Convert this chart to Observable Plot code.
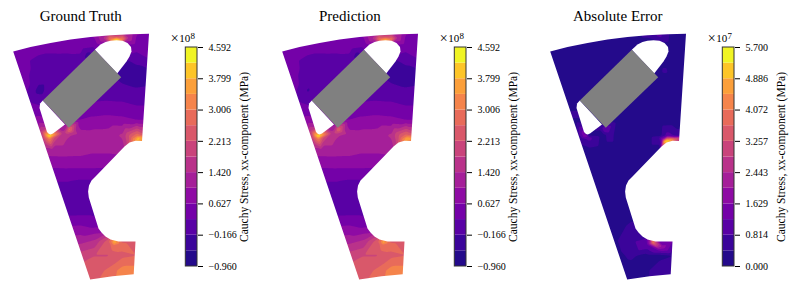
<!DOCTYPE html>
<html><head><meta charset="utf-8">
<style>html,body{margin:0;padding:0;background:#fff}#root{position:relative;width:793px;height:292px;overflow:hidden}
#root svg{position:absolute;top:0;display:block;max-width:none;background:transparent}</style>
<script src="https://cdn.jsdelivr.net/npm/d3@7"></script>
<script src="https://cdn.jsdelivr.net/npm/@observablehq/plot@0.6"></script>
</head><body><div id="root"></div>
<script>
const titles = ["Ground Truth", "Prediction", "Absolute Error"];
const panelLeft = [0, 268.67, 537.33];
const exponents = ["8", "8", "7"];
const axisLabel = "Cauchy Stress, xx-component (MPa)";
const stressTicks = [-0.96, -0.166, 0.627, 1.42, 2.213, 3.006, 3.799, 4.592];
const errorTicks = [0, 0.814, 1.629, 2.443, 3.257, 4.072, 4.886, 5.7];
const stressEdges = [-0.96,-0.563,-0.167,0.23,0.627,1.023,1.42,1.816,2.213,2.61,3.006,3.403,3.799,4.196,4.592];
const errorEdges = [0,0.407,0.814,1.221,1.629,2.036,2.443,2.85,3.257,3.664,4.072,4.479,4.886,5.293,5.7];
const bandColors = ["#240a8b","#3b049a","#5901a5","#7401a8","#8e0ba4","#a51f99","#b9328a","#c9447b","#d9586a","#e86b5a","#f5844b","#fb9f3a","#fdc528","#f0f424"];

const outlineX = [12.7,30,50,70,90,110,130,148.5,141.5,135,129,124,95,91,88.5,87.6,88.3,98,101,105,110,118,135,133.2,112,100,89.7,12.7];
const outlineY = [51,46.5,42.5,39,36.6,34.7,33.7,33.3,140.5,140.3,142,146,176,180,185,191,197,228,232,236,239,241,241,273.7,275.7,277.5,279,51];
const frameX = [-6,-6,172,172,-6];
const frameY = [-6,298,298,-6,-6];
const upperSlotX = [94.3,100,105,110,116,122,127,130.5,131,129,126,116.7];
const upperSlotY = [49.3,44,41.5,40.2,39.8,40.2,42.5,46.5,51,56,61,73];
const lowerSlotX = [42.3,39.6,39,46.5,48.5,50.2,52.5,64.5];
const lowerSlotY = [100,103,107.5,131.5,133.5,134,133,124];
const magnetX = [94.3,120.7,68.3,42.3];
const magnetY = [49.3,76.7,127.3,100];

const gridX = [10,24,38,52,66,80,94,108,122,136,150];
const gridY = [30,45,60,75,90,105,120,135,150,165,180,195,210,225,240,255,270,285];
const truthGrid = [
 .43,.43,.43,.43,.5,.63,.9,1.1,1.0,.7,.63,
 .43,.43,.43,.43,.45,.5,.35,.6,.6,.45,.43,
 .35,.3,.12,.05,.03,0,-.15,-.1,-.25,-.05,.2,
 .35,.32,.05,.03,.03,.03,-.1,-.1,-.4,-.45,-.4,
 .35,.35,-.3,.03,.03,.03,.03,.03,.03,-.1,-.05,
 .4,.4,.25,.2,.23,.28,.3,.32,.3,.23,.23,
 .7,.7,.8,.7,.6,.65,.75,.8,.75,.65,.63,
 1.3,1.3,1.3,1.4,1.5,1.25,1.22,1.22,1.5,2.0,2.0,
 1.2,1.2,1.2,1.22,1.22,1.2,1.1,1.1,1.15,1.3,1.3,
 .7,.7,.7,.7,.72,.72,.72,.7,.7,.7,.7,
 .25,.25,.25,.25,.25,.2,.2,.23,.23,.23,.23,
 .03,.03,.03,.03,.03,.03,.03,.03,.03,.03,.03,
 .03,.03,.03,.03,.03,.05,.05,.1,.2,.2,.2,
 .6,.6,.6,.6,.6,.63,.5,.6,.8,.8,.8,
 1.2,1.2,1.2,1.2,1.2,1.25,1.45,2.0,2.4,2.3,2.3,
 2.0,2.0,2.0,2.0,2.0,2.0,2.2,2.2,2.5,2.6,2.6,
 2.4,2.4,2.4,2.4,2.4,2.4,2.4,2.7,3.2,3.2,3.2,
 2.6,2.6,2.6,2.6,2.6,2.6,2.6,2.8,3.2,3.2,3.2];
const predictionGrid = [
 .43,.43,.43,.43,.5,.63,.85,1.05,1.0,.7,.63,
 .43,.43,.43,.43,.45,.5,.35,.6,.6,.45,.43,
 .35,.3,.12,.05,.03,0,-.15,-.1,-.25,-.05,.2,
 .35,.32,.05,.03,.03,.03,-.1,-.1,-.38,-.42,-.38,
 .35,.35,-.2,.03,.03,.03,.03,.03,.03,-.1,-.05,
 .4,.4,.25,.2,.23,.28,.3,.32,.3,.23,.23,
 .7,.7,.8,.7,.6,.65,.75,.8,.75,.65,.63,
 1.3,1.3,1.3,1.4,1.5,1.25,1.22,1.22,1.5,2.0,2.0,
 1.2,1.2,1.2,1.22,1.22,1.2,1.1,1.1,1.15,1.3,1.3,
 .7,.7,.7,.7,.72,.72,.72,.7,.7,.7,.7,
 .25,.25,.25,.25,.25,.2,.2,.23,.23,.23,.23,
 .03,.03,.03,.03,.03,.03,.03,.03,.03,.03,.03,
 .03,.03,.03,.03,.03,.05,.05,.1,.2,.2,.2,
 .6,.6,.6,.6,.6,.63,.5,.6,.8,.8,.8,
 1.2,1.2,1.2,1.2,1.2,1.25,1.45,2.0,2.35,2.3,2.3,
 2.0,2.0,2.0,2.0,2.0,2.0,2.2,2.2,2.5,2.6,2.6,
 2.4,2.4,2.4,2.4,2.4,2.4,2.4,2.7,3.2,3.2,3.2,
 2.6,2.6,2.6,2.6,2.6,2.6,2.6,2.8,3.2,3.2,3.2];
const errorGrid = [
 .15,.15,.15,.15,.15,.15,.2,.2,.3,.2,.15,
 .1,.1,.1,.1,.1,.1,.1,.1,.1,.1,.1,
 .1,.1,.1,.1,.1,.1,.1,.1,.1,.1,.1,
 .1,.1,.1,.1,.1,.1,.1,.1,.1,.2,.1,
 .1,.1,.1,.1,.1,.1,.1,.1,.1,.1,.1,
 .1,.1,.2,.1,.1,.1,.1,.1,.1,.1,.1,
 .1,.1,.25,.1,.1,.15,.1,.1,.1,.15,.15,
 .2,.2,.3,.3,.2,.15,.1,.1,.2,.3,.3,
 .1,.1,.1,.25,.1,.1,.1,.1,.1,.1,.1,
 .1,.1,.1,.1,.1,.1,.1,.1,.1,.1,.1,
 .1,.1,.1,.1,.1,.1,.1,.1,.1,.1,.1,
 .1,.1,.1,.1,.1,.25,.1,.1,.1,.1,.1,
 .1,.1,.1,.1,.1,.15,.15,.1,.1,.1,.1,
 .1,.1,.1,.1,.1,.25,.5,.2,.1,.1,.1,
 .15,.15,.15,.15,.25,.4,.7,.9,1.1,1.2,1.2,
 .3,.3,.3,.3,.3,.3,.5,.25,.25,.4,.4,
 .15,.15,.15,.15,.15,.15,.2,.3,.7,.7,.7,
 .15,.15,.15,.15,.15,.15,.2,.3,.5,.5,.5];

// extra samples around the local stress peaks
const truthSpotX = [116,113,119,110,122,116,104,128,88,49,47,51,49,44,54,41,58,45,68.5,67,70,63,74,137,134,140,137,130,126,143,114,111,117,113,107,120,112];
const truthSpotY = [39.3,39.3,39.3,39,39,36,38,37.5,54,135.5,135,135,138,137,137,131,138,144,129,131,131,133,132,138.5,139,138,135,136,132,134,242,241.5,242,245,241,244,249];
const truthSpotV = [4.6,4.0,4.0,3.2,3.2,2.2,1.5,1.4,-.35,4.7,4.0,4.0,3.2,2.4,2.2,1.9,1.7,1.7,2.9,2.3,2.3,1.6,1.6,4.1,3.4,3.9,2.9,2.4,1.8,2.3,3.9,3.1,3.3,2.9,2.4,2.8,2.7];
const predictionSpotV = [3.9,3.6,3.6,3.0,3.0,2.1,1.5,1.4,-.33,4.7,4.0,4.0,3.2,2.4,2.2,1.9,1.7,1.7,2.7,2.2,2.2,1.6,1.6,3.9,3.3,3.7,2.8,2.3,1.8,2.3,3.7,3.0,3.2,2.8,2.4,2.8,2.7];
const errorSpotX = [129,127,132,135,138,141,125,122,130,137,142,48,46,51,44,38,68.5,66,72,62,122,108,126,78,115.5,113,118,110,126,128,123];
const errorSpotY = [140.5,141,140,139,138.5,138,139,137,135,135.5,135,135,133,137,138,115,129,132,133,127,35,35,71,122,242,242,242,244,247,245,250];
const errorSpotV = [5.7,5.4,5.2,4.6,3.8,3.4,1.9,.8,1.0,.8,.6,2.0,1.5,1.0,.7,.6,1.3,.7,.7,.5,.95,.5,.55,.45,4.2,2.4,3.2,1.2,1.8,1.7,1.3];

function samples(grid, sx, sy, sv) {
  const rows = [];
  gridY.forEach((y, j) => gridX.forEach((x, i) => rows.push({x, y, v: grid[j * gridX.length + i]})));
  sx.forEach((x, i) => rows.push({x, y: sy[i], v: sv[i]}));
  return rows.filter((d, i, a) => !a.some((e, k) => k > i && Math.hypot(e.x - d.x, e.y - d.y) < 1.5));
}
const pts = (X, Y) => X.map((x, i) => ({x, y: Y[i]}));
const maskOuter = [...pts(frameX, frameY).slice(0, 1), ...pts(outlineX, outlineY), ...pts(frameX, frameY)];

const fields = [
  samples(truthGrid, truthSpotX, truthSpotY, truthSpotV),
  samples(predictionGrid, truthSpotX, truthSpotY, predictionSpotV),
  samples(errorGrid, errorSpotX, errorSpotY, errorSpotV)
];
const edges = [stressEdges, stressEdges, errorEdges];
const ticks = [stressTicks, stressTicks, errorTicks];
const root = document.getElementById("root");

titles.forEach((title, p) => {
  const colorScale = {type: "threshold", domain: edges[p].slice(1, -1), range: bandColors};
  const map = Plot.plot({
    width: 165, height: 292, margin: 0,
    x: {domain: [0, 165], axis: null}, y: {domain: [292, 0], axis: null},
    color: colorScale,
    style: {fontFamily: "Liberation Serif", background: "transparent"},
    marks: [
      Plot.contour(fields[p], {x: "x", y: "y", fill: "v", interpolate: "barycentric", thresholds: edges[p].slice(0, -1), blur: 0.6, pixelSize: 0.5, stroke: "none"}),
      Plot.line(maskOuter, {x: "x", y: "y", fill: "white", stroke: "none"}),
      Plot.line(pts(upperSlotX, upperSlotY), {x: "x", y: "y", fill: "white", stroke: "none"}),
      Plot.line(pts(lowerSlotX, lowerSlotY), {x: "x", y: "y", fill: "white", stroke: "none"}),
      Plot.line(pts(magnetX, magnetY), {x: "x", y: "y", fill: "#808080", stroke: "none"}),
      Plot.text([title], {frameAnchor: "top", x: [80.3], text: d => d, fontSize: 15, dy: 10, fill: "black"})
    ]
  });
  map.style.left = panelLeft[p] + "px";
  root.append(map);

  const e = edges[p];
  const bar = Plot.plot({
    width: 90, height: 292, marginLeft: 20.3, marginRight: 58, marginTop: 47, marginBottom: 26,
    x: {domain: [0, 1], axis: null},
    y: {domain: [e[0], e[e.length - 1]], axis: null},
    color: colorScale,
    style: {fontFamily: "Liberation Serif", background: "transparent"},
    marks: [
      Plot.rect(e.slice(0, -1), {x1: 0, x2: 1, y1: d => d, y2: (d, i) => e[i + 1], fill: d => d}),
      Plot.rect([0], {x1: 0, x2: 1, y1: e[0], y2: e[e.length - 1], fill: "none", stroke: "#333", strokeWidth: 1}),
      Plot.axisY({anchor: "right", ticks: ticks[p], tickFormat: d3.format(".3f"), tickSize: 5, tickPadding: 6, fontSize: 10, label: null, stroke: "black", color: "black"}),
      Plot.text([axisLabel], {frameAnchor: "left", text: d => d, textAnchor: "middle", rotate: -90, dx: 58.7, fontSize: 11.5, fill: "black"}),
      Plot.text(["\u00d7"], {frameAnchor: "top-left", text: d => d, textAnchor: "start", lineAnchor: "bottom", dx: -15, dy: -4.5, fontSize: 14, fill: "black"}),
      Plot.text(["10"], {frameAnchor: "top-left", text: d => d, textAnchor: "start", lineAnchor: "bottom", dx: -6.5, dy: -5.3, fontSize: 11, fill: "black"}),
      Plot.text([exponents[p]], {frameAnchor: "top-left", text: d => d, textAnchor: "start", lineAnchor: "bottom", dx: 4.8, dy: -8.5, fontSize: 9, fill: "black"})
    ]
  });
  bar.style.left = (panelLeft[p] + 165) + "px";
  root.append(bar);
});
</script></body></html>
